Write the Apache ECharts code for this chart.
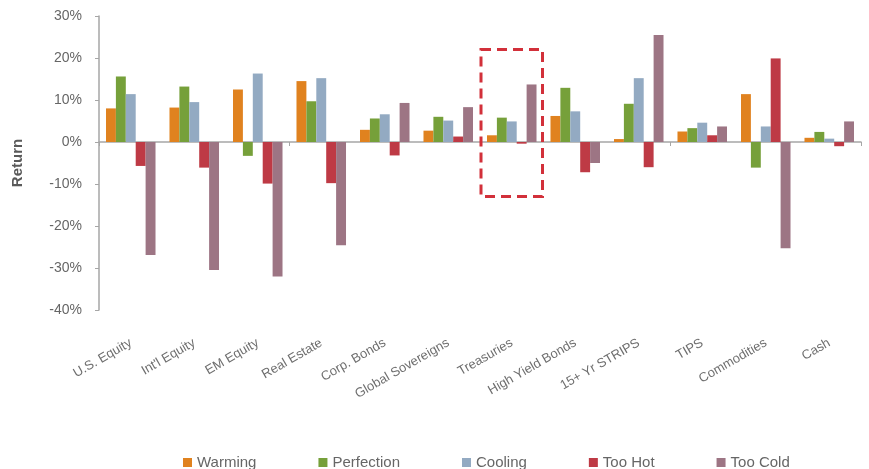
<!DOCTYPE html>
<html>
<head>
<meta charset="utf-8">
<script src="https://cdn.jsdelivr.net/npm/echarts@6/dist/echarts.min.js"></script>
<style>
  html, body { margin: 0; padding: 0; background: #fff; }
  #chart { width: 869px; height: 469px; }
</style>
</head>
<body>
<div id="chart"></div>
<script>
// Asset classes and the return of each in five economic scenarios (%)
const categories = ['U.S. Equity', "Int'l Equity", 'EM Equity', 'Real Estate', 'Corp. Bonds',
  'Global Sovereigns', 'Treasuries', 'High Yield Bonds', '15+ Yr STRIPS', 'TIPS', 'Commodities', 'Cash'];
const warming    = [8.0, 8.2, 12.5, 14.5, 2.9, 2.7, 1.6, 6.2, 0.7, 2.5, 11.4, 1.0];
const perfection = [15.6, 13.2, -3.3, 9.7, 5.6, 6.0, 5.8, 12.9, 9.1, 3.3, -6.1, 2.4];
const cooling    = [11.4, 9.5, 16.3, 15.2, 6.6, 5.1, 4.9, 7.3, 15.2, 4.6, 3.7, 0.8];
const tooHot     = [-5.7, -6.1, -9.9, -9.8, -3.2, 1.3, -0.4, -7.2, -6.0, 1.6, 19.9, -1.0];
const tooCold    = [-26.9, -30.5, -32.0, -24.6, 9.3, 8.3, 13.7, -5.0, 25.5, 3.7, -25.3, 4.9];
const yTicks = { min: -40, max: 30, step: 10 };

// Highlighted category and the return range the dashed box covers
const highlight = { category: 'Treasuries', top: 22, bottom: -13 };

const seriesDefs = [
  { name: 'Warming', data: warming, color: '#E0821F' },
  { name: 'Perfection', data: perfection, color: '#76A03A' },
  { name: 'Cooling', data: cooling, color: '#93AAC2' },
  { name: 'Too Hot', data: tooHot, color: '#BE3A45' },
  { name: 'Too Cold', data: tooCold, color: '#9D7584' }
];

const font = 'Liberation Sans, Arial, sans-serif';
const chart = echarts.init(document.getElementById('chart'), null, { renderer: 'canvas' });

const option = {
  animation: false,
  backgroundColor: '#ffffff',
  textStyle: { fontFamily: font },
  grid: { left: 99, right: 8, top: 16, bottom: 159, containLabel: false },
  legend: {
    left: 178, top: 450,
    itemWidth: 9, itemHeight: 9, itemGap: 62,
    icon: 'rect',
    textStyle: { color: '#666666', fontSize: 15, fontFamily: font },
    data: seriesDefs.map(s => s.name)
  },
  xAxis: [
    {
      // zero line with tick marks between the categories
      type: 'category',
      data: categories,
      axisLine: { onZero: true, lineStyle: { color: '#A6A6A6', width: 1.5 } },
      axisTick: { show: true, length: 4, alignWithLabel: false, lineStyle: { color: '#A6A6A6' } },
      axisLabel: { show: false },
      splitLine: { show: false }
    },
    {
      // category names below the plot
      type: 'category',
      data: categories,
      position: 'bottom',
      axisLine: { show: false, onZero: false },
      axisTick: { show: false },
      axisLabel: {
        rotate: 30, margin: 32, fontSize: 13, color: '#6E6E6E', fontFamily: font, interval: 0
      }
    }
  ],
  yAxis: {
    type: 'value',
    min: yTicks.min, max: yTicks.max, interval: yTicks.step,
    name: 'Return',
    nameLocation: 'middle',
    nameGap: 74,
    nameRotate: 90,
    nameTextStyle: { fontSize: 15, fontWeight: 'bold', color: '#5A5A5A', fontFamily: font },
    axisLine: { show: true, lineStyle: { color: '#A6A6A6', width: 1.5 } },
    axisTick: { show: true, length: 4, lineStyle: { color: '#A6A6A6' } },
    axisLabel: { formatter: '{value}%', fontSize: 14, color: '#666666', margin: 17, fontFamily: font },
    splitLine: { show: false }
  },
  series: seriesDefs.map(s => ({
    name: s.name,
    type: 'bar',
    xAxisIndex: 0,
    data: s.data,
    barGap: '0%',
    barCategoryGap: '22%',
    itemStyle: { color: s.color }
  }))
};

chart.setOption(option);

// Dashed box around the highlighted category, placed through the axes' scales
function placeHighlight() {
  const idx = categories.indexOf(highlight.category);
  const c0 = chart.convertToPixel({ xAxisIndex: 0 }, categories[0]);
  const c1 = chart.convertToPixel({ xAxisIndex: 0 }, categories[1]);
  const band = c1 - c0;
  const cx = chart.convertToPixel({ xAxisIndex: 0 }, categories[idx]);
  const yTop = chart.convertToPixel({ yAxisIndex: 0 }, highlight.top);
  const yBot = chart.convertToPixel({ yAxisIndex: 0 }, highlight.bottom);
  chart.setOption({
    graphic: [{
      type: 'rect',
      silent: true,
      shape: { x: cx - band / 2 + 1, y: yTop, width: band - 2, height: yBot - yTop },
      style: { fill: 'none', stroke: '#D2303A', lineWidth: 3, lineDash: [10, 6] },
      z: 10
    }]
  });
}
placeHighlight();
</script>
</body>
</html>
